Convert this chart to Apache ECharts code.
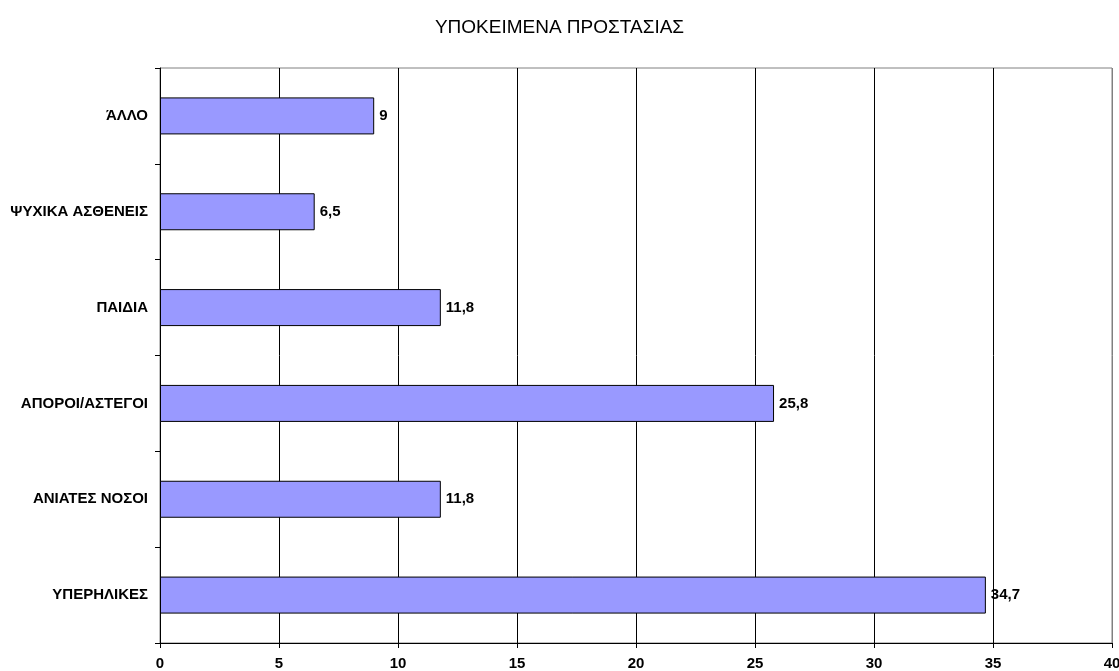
<!DOCTYPE html>
<html>
<head>
<meta charset="utf-8">
<script src="https://cdn.jsdelivr.net/npm/echarts@6/dist/echarts.min.js"></script>
<style>
  html, body { margin: 0; padding: 0; background: #fff; }
  #main { width: 1119px; height: 671px; }
</style>
</head>
<body>
<div id="main"></div>
<script>
var categories = ['ΥΠΕΡΗΛΙΚΕΣ', 'ΑΝΙΑΤΕΣ ΝΟΣΟΙ', 'ΑΠΟΡΟΙ/ΑΣΤΕΓΟΙ', 'ΠΑΙΔΙΑ', 'ΨΥΧΙΚΑ ΑΣΘΕΝΕΙΣ', 'ΆΛΛΟ'];
var values = [34.7, 11.8, 25.8, 11.8, 6.5, 9];
var xTicks = [0, 5, 10, 15, 20, 25, 30, 35, 40];

var myChart = echarts.init(document.getElementById('main'));

var fontFam = 'Liberation Sans, Arial, sans-serif';

var option = {
  backgroundColor: '#fff',
  animation: false,
  title: {
    text: 'ΥΠΟΚΕΙΜΕΝΑ ΠΡΟΣΤΑΣΙΑΣ',
    left: 'center',
    top: 13,
    textStyle: {
      fontFamily: fontFam,
      fontSize: 19,
      fontWeight: 'normal',
      color: '#000'
    }
  },
  grid: {
    left: 160,
    right: 7,
    top: 68,
    bottom: 28,
    outerBoundsMode: 'none',
    show: true,
    borderColor: '#808080',
    borderWidth: 1
  },
  xAxis: {
    type: 'value',
    min: xTicks[0],
    max: xTicks[xTicks.length - 1],
    interval: 5,
    axisLine: { show: true, lineStyle: { color: '#000', width: 1 } },
    axisTick: { show: true, length: 5, lineStyle: { color: '#000' } },
    axisLabel: {
      margin: 13,
      fontFamily: fontFam,
      fontSize: 15,
      fontWeight: 'bold',
      color: '#000'
    },
    splitLine: {
      show: true,
      lineStyle: {
        color: ['#000', '#000', '#000', '#000', '#000', '#000', '#000', '#000', '#808080'],
        width: 1
      }
    }
  },
  yAxis: {
    type: 'category',
    data: categories,
    axisLine: { show: true, lineStyle: { color: '#000', width: 1 } },
    axisTick: { show: true, length: 5, lineStyle: { color: '#000' } },
    axisLabel: {
      margin: 12,
      fontFamily: fontFam,
      fontSize: 15,
      fontWeight: 'bold',
      color: '#000'
    },
    splitLine: { show: false }
  },
  series: [
    {
      type: 'bar',
      data: values,
      barWidth: 37,
      itemStyle: {
        color: '#9999FF',
        borderColor: '#000',
        borderWidth: 1
      },
      label: {
        show: true,
        position: 'right',
        distance: 5,
        fontFamily: fontFam,
        fontSize: 15,
        fontWeight: 'bold',
        color: '#000',
        formatter: function (p) {
          return String(p.value).replace('.', ',');
        }
      }
    }
  ]
};

myChart.setOption(option);
</script>
</body>
</html>
